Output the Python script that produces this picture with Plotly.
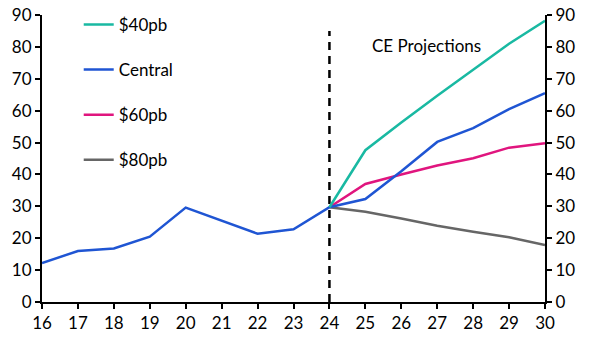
import plotly.graph_objects as go

years = [16, 17, 18, 19, 20, 21, 22, 23, 24, 25, 26, 27, 28, 29, 30]
central = [12.2, 16.0, 16.8, 20.5, 29.6, 25.5, 21.4, 22.8, 29.7, 32.3, 41.0, 50.2, 54.5, 60.5, 65.5]

proj_years = [24, 25, 26, 27, 28, 29, 30]
pb40 = [29.7, 47.6, 56.3, 64.7, 72.8, 81.0, 88.2]
pb60 = [29.7, 37.0, 40.0, 42.8, 45.1, 48.4, 49.8]
pb80 = [29.7, 28.3, 26.2, 23.9, 22.0, 20.3, 17.9]

divider_x = [24, 24]
divider_y = [0, 85]

y_ticks = [0, 10, 20, 30, 40, 50, 60, 70, 80, 90]
x_ticks = years

C40 = "#19b9a2"
CCEN = "#1f55d3"
C60 = "#e0157e"
C80 = "#666666"
FONT = "Lato"

fig = go.Figure()
fig.add_trace(go.Scatter(x=divider_x, y=divider_y, mode="lines",
                         line=dict(color="black", width=2.5, dash="8px,6px"),
                         showlegend=False, hoverinfo="skip"))
# invisible trace to show the right-hand axis
fig.add_trace(go.Scatter(x=divider_x, y=divider_y, mode="lines", yaxis="y2",
                         line=dict(color="rgba(0,0,0,0)", width=0),
                         showlegend=False, hoverinfo="skip"))
fig.add_trace(go.Scatter(x=proj_years, y=pb80, mode="lines", name="$80pb",
                         line=dict(color=C80, width=2.5), legendgroup="d", legendrank=4))
fig.add_trace(go.Scatter(x=proj_years, y=pb60, mode="lines", name="$60pb",
                         line=dict(color=C60, width=2.5), legendgroup="c", legendrank=3))
fig.add_trace(go.Scatter(x=years, y=central, mode="lines", name="Central",
                         line=dict(color=CCEN, width=2.5), legendgroup="b", legendrank=2))
fig.add_trace(go.Scatter(x=proj_years, y=pb40, mode="lines", name="$40pb",
                         line=dict(color=C40, width=2.5), legendgroup="a", legendrank=1))

axis_common = dict(showgrid=False, zeroline=False, showline=True, linecolor="black",
                   linewidth=2, ticks="outside", ticklen=5, tickwidth=2, tickcolor="black",
                   tickfont=dict(family=FONT, size=17, color="black"), automargin=False)

fig.update_layout(
    width=591, height=340,
    margin=dict(l=42, r=46, t=15, b=38, autoexpand=False),
    paper_bgcolor="white", plot_bgcolor="white",
    font=dict(family=FONT, size=17, color="black"),
    xaxis=dict(range=[16, 30], tickvals=x_ticks, **axis_common),
    yaxis=dict(range=[0, 90], tickvals=y_ticks, **axis_common),
    yaxis2=dict(range=[0, 90], tickvals=y_ticks, overlaying="y", side="right",
                anchor="x", **axis_common),
    legend=dict(x=0.073, y=1.028, xanchor="left", yanchor="top", maxheight=300,
                bgcolor="rgba(0,0,0,0)", tracegroupgap=20, traceorder="grouped",
                font=dict(family=FONT, size=17, color="black")),
    annotations=[dict(x=26.7, y=80.5, xref="x", yref="y", text="CE Projections",
                      showarrow=False, font=dict(family=FONT, size=17, color="black"))],
)

fig.write_html("out.html")
